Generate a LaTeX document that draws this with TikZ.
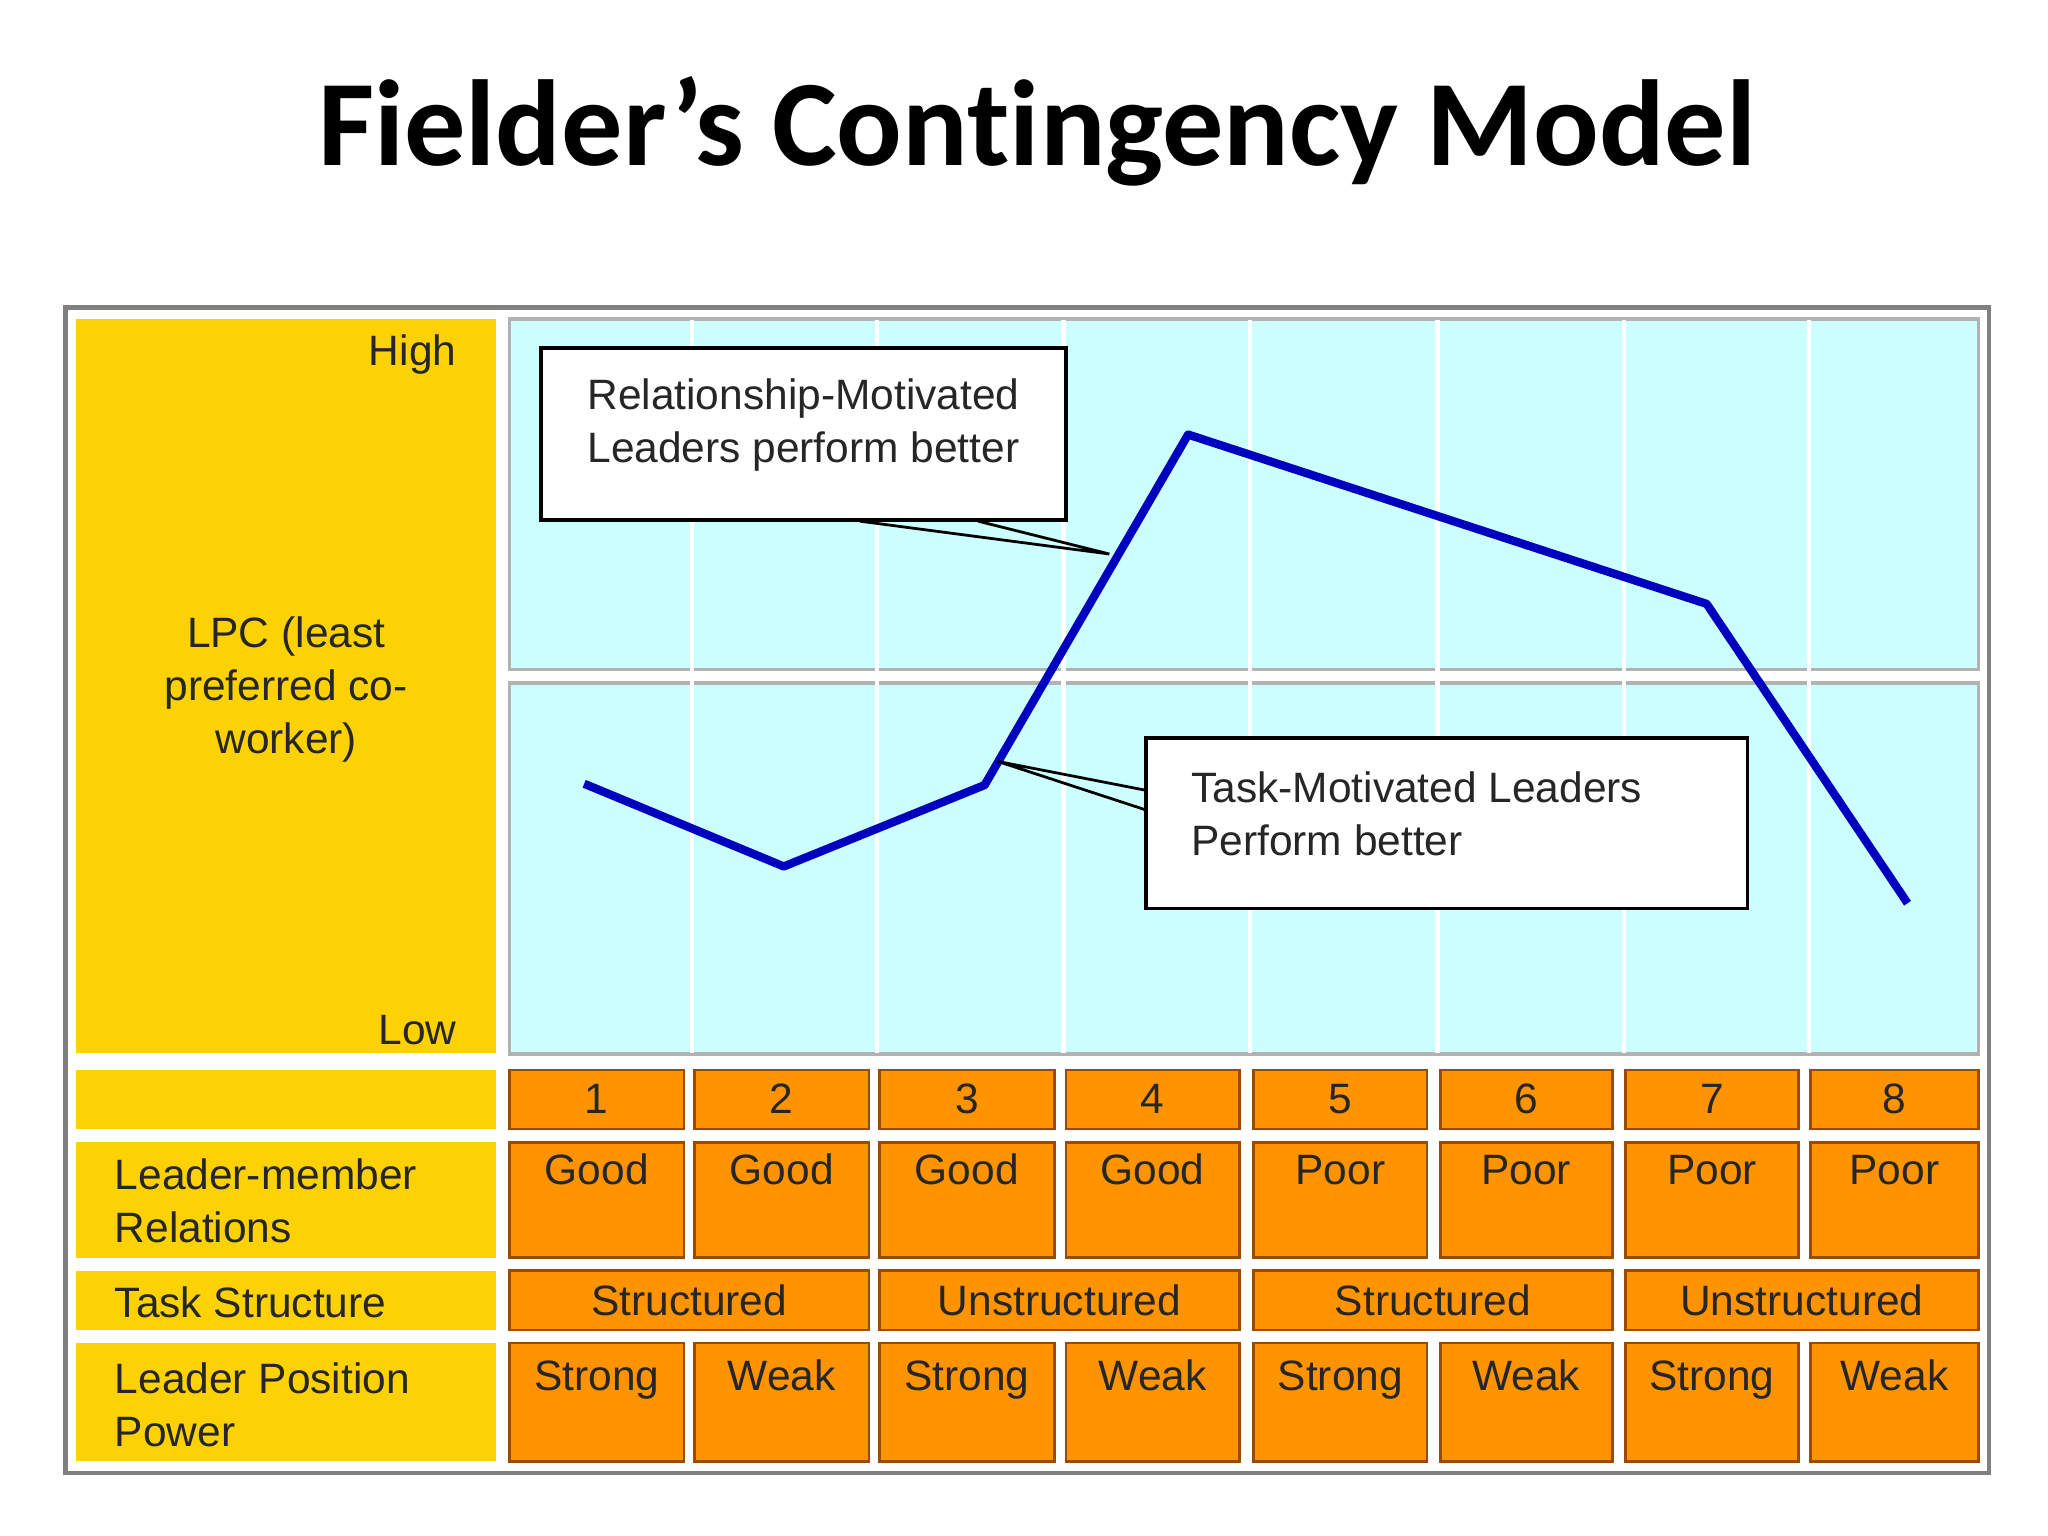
\documentclass[tikz,border=0pt]{standalone}
\usepackage{fontspec}
\setmainfont{Liberation Sans}
\newfontfamily\titlefont[RawFeature=-liga]{Carlito}
\begin{document}
\begin{tikzpicture}[x=0.01cm,y=-0.01cm,
  yel/.style={fill=yellow!70!orange,draw=none},
  cy/.style={fill={rgb,255:red,204;green,255;blue,255},draw=gray!60,line width=0.8pt},
  cell/.style={fill=orange!85!yellow,draw=orange!60!black,line width=0.6pt},
  txt/.style={font=\fontsize{9.2}{11.5}\selectfont,text=black!85},
  callout/.style={draw=black,fill=white,line width=0.8pt}]
\useasboundingbox (0,0) rectangle (1560,1170);
\fill[white] (0,0) rectangle (1560,1170);
\node[font=\titlefont\bfseries\fontsize{26.5}{30}\selectfont] (title) at (790,100) {Fielder’s Contingency Model};
\draw[gray,line width=1pt] (50,234) rectangle (1515,1122);
% yellow
\fill[yel] (58,243) rectangle (378,802);
\fill[yel] (58,815) rectangle (378,860);
\fill[yel] (58,870) rectangle (378,958);
\fill[yel] (58,968) rectangle (378,1013);
\fill[yel] (58,1023) rectangle (378,1113);
\node[txt,anchor=east] (high) at (360,270) {High};
\node[txt,anchor=east] (low) at (360,785) {Low};
\node[txt,align=center] (lpc) at (218,525) {LPC (least\\preferred co-\\worker)};
\node[txt,anchor=west,align=left] (lmr) at (75,915) {Leader-member\\Relations};
\node[txt,anchor=west] (ts) at (75,992) {Task Structure};
\node[txt,anchor=west,align=left] (lpp) at (75,1070) {Leader Position\\Power};
% cyan
\draw[cy] (388,243) rectangle (1507,510);
\draw[cy] (388,520) rectangle (1507,803);
\foreach \x in {527,668,810,952,1095,1237,1378}{\draw[white,line width=1pt] (\x,244) -- (\x,802);}
% cells
\def\L{{388,529,670,812,955,1097,1238,1379}}
\def\R{{521,662,803,944,1087,1228,1370,1507}}
\foreach \i/\rel/\pw in {0/Good/Strong,1/Good/Weak,2/Good/Strong,3/Good/Weak,4/Poor/Strong,5/Poor/Weak,6/Poor/Strong,7/Poor/Weak}{
  \pgfmathsetmacro\l{\L[\i]}\pgfmathsetmacro\r{\R[\i]}
  \pgfmathtruncatemacro\n{\i+1}
  \draw[cell] (\l,815) rectangle (\r,860);
  \node[txt,anchor=base] (num\n) at ({(\l+\r)/2},848) {\n};
  \draw[cell] (\l,870) rectangle (\r,958);
  \node[txt,anchor=base] (rel\n) at ({(\l+\r)/2},902) {\rel};
  \draw[cell] (\l,1023) rectangle (\r,1113);
  \node[txt,anchor=base] (pw\n) at ({(\l+\r)/2},1059) {\pw};
}
\foreach \a/\b/\t/\k in {388/662/Structured/1,670/944/Unstructured/2,955/1228/Structured/3,1238/1507/Unstructured/4}{
  \draw[cell] (\a,968) rectangle (\b,1013);
  \node[txt,anchor=base] (ts\k) at ({(\a+\b)/2},1002) {\t};
}
% curve
\coordinate (p1) at (445,597);\coordinate (p2) at (597,660);\coordinate (p3) at (750,598);
\coordinate (p4) at (905,331);\coordinate (p5) at (1300,460);\coordinate (p6) at (1453,688);
\draw[blue!75!black,line width=1.8pt,line join=round] (p1)--(p2)--(p3)--(p4)--(p5)--(p6);
% callouts
\coordinate (t1) at (845,422);\coordinate (t2) at (760,580);
\draw[black,line width=0.6pt] (655,397) -- (t1) -- (745,397);
\draw[black,line width=0.6pt] (873,602) -- (t2) -- (873,617);
\draw[callout] (412,265) rectangle (812,396);
\node[txt,anchor=west,align=left] (b1t) at (435,324) {Relationship-Motivated\\Leaders perform better};
\draw[callout] (873,562) rectangle (1331,692);
\node[txt,anchor=west,align=left] (b2t) at (895,620) {Task-Motivated Leaders\\Perform better};
\end{tikzpicture}
\end{document}
